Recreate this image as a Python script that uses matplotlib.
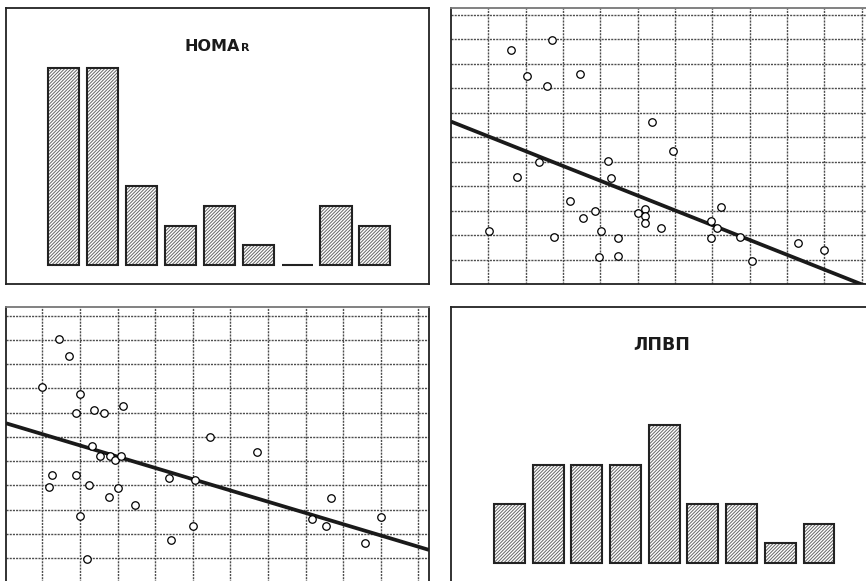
import matplotlib
matplotlib.use("Agg")
import matplotlib.pyplot as plt
import numpy as np

W, H = 866, 581

# ── Data ────────────────────────────────────────────────────────────────────

homa_counts = [10, 10, 4, 2, 3, 1, 0, 3, 2]
hdl_counts = [3, 5, 5, 5, 7, 3, 3, 1, 2]

# upper scatter
tr_x = [1.61, 2.70, 2.03, 3.46, 2.58, 5.38, 5.95, 2.35, 4.20, 1.76, 4.29,
        3.19, 3.86, 3.54, 5.02, 5.21, 5.21, 5.21, 5.62, 7.23, 6.96, 7.12,
        7.74, 6.96, 1.02, 2.77, 4.01, 4.47, 3.97, 4.47, 8.06, 9.30, 10.00]
tr_y = [9.55, 9.97, 8.50, 8.59, 8.10, 6.63, 5.43, 4.99, 5.01, 4.38, 4.31,
        3.40, 2.98, 2.69, 2.91, 3.06, 2.78, 2.50, 2.27, 3.13, 2.57, 2.27,
        1.93, 1.86, 2.15, 1.93, 2.15, 1.86, 1.10, 1.16, 0.95, 1.66, 1.39]
tr_fit = (6.63, -0.604)   # intercept, slope

# lower scatter
bl_x = [1.45, 1.72, 0.98, 2.00, 1.90, 2.37, 2.63, 3.14, 5.46, 6.70, 2.32,
        2.54, 2.81, 2.94, 3.09, 1.27, 1.90, 1.17, 2.23, 3.00, 2.76, 3.46,
        4.38, 5.07, 2.00, 5.01, 4.41, 2.18, 8.16, 8.67, 8.54, 10.00, 9.59]
bl_y = [10.02, 9.32, 8.05, 7.76, 6.99, 7.13, 6.99, 7.28, 6.00, 5.37, 5.64,
        5.20, 5.20, 5.07, 5.23, 4.43, 4.43, 3.95, 4.02, 3.88, 3.53, 3.18,
        4.30, 4.23, 2.76, 2.34, 1.76, 0.99, 2.62, 3.47, 2.35, 2.70, 1.62]
bl_fit = (6.58, -0.464)

# ── Helpers ─────────────────────────────────────────────────────────────────

EDGE = "#222222"
HATCH = "#666666"
GRID = "#4d4d4d"
TXT = "#1a1a1a"

plt.rcParams["hatch.linewidth"] = 0.7
plt.rcParams["hatch.color"] = HATCH

fig = plt.figure(figsize=(W / 100, H / 100), dpi=100)


def px_axes(left, top, right, bottom):
    return fig.add_axes([left / W, 1 - bottom / H, (right - left) / W,
                         (bottom - top) / H])


def style_box(ax):
    ax.set_xticks([]); ax.set_yticks([])
    for s in ax.spines.values():
        s.set_color(EDGE)
        s.set_linewidth(1.3)


def bar_panel(ax, counts):
    x = np.arange(len(counts))
    ax.bar(x, counts, 0.8, color="white", edgecolor=HATCH,
           hatch="/" * 10, linewidth=0, zorder=2)
    ax.bar(x, counts, 0.8, fill=False, edgecolor=EDGE, linewidth=1.5, zorder=3)
    style_box(ax)


def scatter_panel(ax, xs, ys, fit, xlim, ylim):
    ax.set_xlim(*xlim); ax.set_ylim(*ylim)
    for v in range(1, 12):
        ax.axvline(v, color=GRID, lw=1.0, ls=(0, (1.5, 0.8)), zorder=1)
        ax.axhline(v, color=GRID, lw=1.0, ls=(0, (1.5, 0.8)), zorder=1)
    lx = np.array(xlim)
    ax.plot(lx, fit[0] + fit[1] * lx, color="#1a1a1a", lw=2.7, zorder=3,
            solid_capstyle="butt")
    ax.plot(xs, ys, "o", ms=5.4, mfc="white", mec="black", mew=0.9, zorder=4)
    style_box(ax)
    ax.spines["top"].set_color("#777777")


# ── HOMA-R histogram ────────────────────────────────────────────────────────

ax1 = px_axes(6, 8, 429, 284)
bar_panel(ax1, homa_counts)
ax1.set_xlim(-1.48, 9.39)
ax1.set_ylim(-0.96, 13.05)
t = ax1.text(0.487, 0.845, "HOMA", transform=ax1.transAxes, ha="center",
             va="baseline", fontsize=11.5, fontweight="bold", color=TXT)
ax1.annotate("R", xy=(1.0, 0.0), xycoords=t, xytext=(0.6, 0.6),
             textcoords="offset points", ha="left", va="bottom",
             fontsize=8, fontweight="bold", color=TXT)

# ── scatter, upper right ────────────────────────────────────────────────────

ax2 = px_axes(451, 8, 875, 284)
scatter_panel(ax2, tr_x, tr_y, tr_fit, (0, (875 - 451) / 37.33),
              (0, (284 - 8) / 24.5))

# ── scatter, lower left ─────────────────────────────────────────────────────

ax3 = px_axes(6, 307, 429, 592)
scatter_panel(ax3, bl_x, bl_y, bl_fit, (0.034, 11.28),
              (1 - (592 - 558.3) / 24.27, 1 + (558.3 - 307) / 24.27))

# ── ЛПВП histogram ──────────────────────────────────────────────────────────

ax4 = px_axes(451, 307, 875, 590)
bar_panel(ax4, hdl_counts)
ax4.set_xlim((451 - 509.5) / 38.69, (875 - 509.5) / 38.69)
ax4.set_ylim((563 - 590) / 19.7, (563 - 307) / 19.7)
ax4.text((662 - 451) / (875 - 451), 1 - (350 - 307) / (590 - 307), "ЛПВП",
         transform=ax4.transAxes, ha="center", va="baseline", fontsize=12.5,
         fontweight="bold", color=TXT)

fig.savefig("out.png", dpi=100)
